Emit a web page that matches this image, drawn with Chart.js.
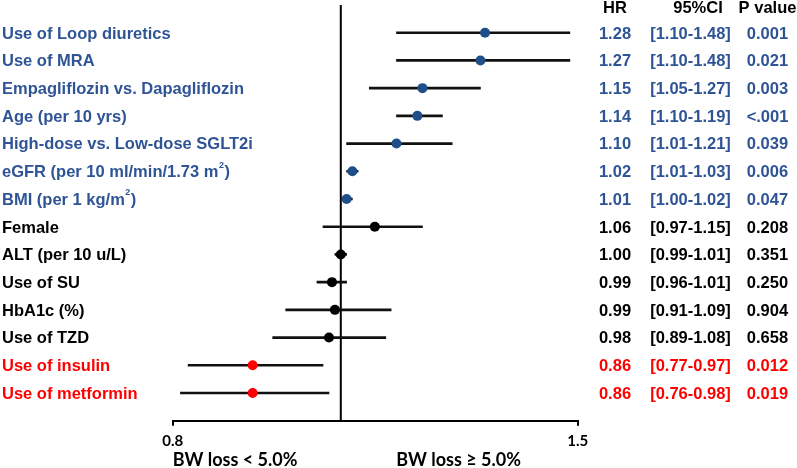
<!DOCTYPE html>
<html>
<head>
<meta charset="utf-8">
<script src="https://cdn.jsdelivr.net/npm/chart.js@4/dist/chart.umd.min.js"></script>
<style>
  html, body { margin: 0; padding: 0; background: #ffffff; }
  #wrap { width: 797px; height: 468px; }
</style>
</head>
<body>
<div id="wrap"><canvas id="c" width="797" height="468"></canvas></div>
<script>
// ---------------- DATA ----------------
const categories = [
  'Use of Loop diuretics',
  'Use of MRA',
  'Empagliflozin vs. Dapagliflozin',
  'Age (per 10 yrs)',
  'High-dose vs. Low-dose SGLT2i',
  'eGFR (per 10 ml/min/1.73 m\u00B2)',
  'BMI (per 1 kg/m\u00B2)',
  'Female',
  'ALT (per 10 u/L)',
  'Use of SU',
  'HbA1c (%)',
  'Use of TZD',
  'Use of insulin',
  'Use of metformin'
];
const hr     = [1.28, 1.27, 1.15, 1.14, 1.10, 1.02, 1.01, 1.06, 1.00, 0.985, 0.99, 0.98, 0.86, 0.86];
const ciLow  = [1.10, 1.10, 1.05, 1.10, 1.01, 1.01, 1.00, 0.97, 0.99, 0.96, 0.91, 0.89, 0.77, 0.76];
const ciHigh = [1.48, 1.48, 1.27, 1.19, 1.21, 1.03, 1.02, 1.15, 1.01, 1.01, 1.09, 1.08, 0.97, 0.98];
const hrText = ['1.28','1.27','1.15','1.14','1.10','1.02','1.01','1.06','1.00','0.99','0.99','0.98','0.86','0.86'];
const pText  = ['0.001','0.021','0.003','<.001','0.039','0.006','0.047','0.208','0.351','0.250','0.904','0.658','0.012','0.019'];
const rowGroup = ['up','up','up','up','up','up','up','none','none','none','none','none','down','down'];
const columnHeaders = ['HR', '95%CI', 'P value'];
const xTickValues = [0.75, 1.5];
const xTickLabels = ['0.8', '1.5'];
const refValue = 1;
const sideLabels = ['BW loss < 5.0%', 'BW loss \u2265 5.0%'];

// ---------------- STYLE ----------------
const textColors = { up: '#2F5496', none: '#000000', down: '#FF0000' };
const dotColors  = { up: '#1F4E89', none: '#000000', down: '#FF0000' };
const mainFont = 'bold 16.5px "Liberation Sans", Arial, sans-serif';
const supFont  = 'bold 9px "Liberation Sans", Arial, sans-serif';
const axisFontFamily = 'Lato, "Open Sans", sans-serif';

const ciStrings = ciLow.map((l, i) => '[' + l.toFixed(2) + '-' + ciHigh[i].toFixed(2) + ']');

function drawLabel(ctx, text, x, yBase) {
  // handles superscript ²
  const parts = text.split('\u00B2');
  let cx = x;
  for (let k = 0; k < parts.length; k++) {
    ctx.font = mainFont;
    ctx.fillText(parts[k], cx, yBase);
    cx += ctx.measureText(parts[k]).width;
    if (k < parts.length - 1) {
      ctx.font = supFont;
      ctx.fillText('2', cx + 0.5, yBase - 9.5);
      cx += ctx.measureText('2').width + 1;
    }
  }
}

const textPlugin = {
  id: 'forestText',
  afterDraw(chart) {
    const ctx = chart.ctx;
    const yS = chart.scales.y;
    const xS = chart.scales.x;
    ctx.save();
    ctx.textBaseline = 'alphabetic';
    const capHalf = 5.9;
    // headers
    ctx.fillStyle = '#000';
    ctx.font = mainFont;
    ctx.textAlign = 'center';
    const colX = [615, 698, 767.5];
    const headerY = 7.5 + capHalf;
    columnHeaders.forEach((h, k) => ctx.fillText(h, colX[k], headerY));
    // rows
    categories.forEach((cat, i) => {
      const y = yS.getPixelForValue(i) + capHalf;
      ctx.fillStyle = textColors[rowGroup[i]];
      ctx.textAlign = 'left';
      drawLabel(ctx, cat, 2, y);
      ctx.font = mainFont;
      ctx.textAlign = 'center';
      ctx.fillText(hrText[i], 615, y);
      ctx.fillText(ciStrings[i], 690.5, y);
      ctx.fillText(pText[i], 767.5, y);
    });
    // side labels under axis
    ctx.fillStyle = '#000';
    ctx.font = 'bold 18px ' + axisFontFamily;
    ctx.textAlign = 'left';
    ctx.textBaseline = 'middle';
    ctx.fillText(sideLabels[0], chart.chartArea.left, 460);
    ctx.fillText(sideLabels[1], xS.getPixelForValue(refValue) + 55.5, 460);
    ctx.restore();
  }
};

const ctx = document.getElementById('c').getContext('2d');
new Chart(ctx, {
  type: 'bar',
  data: {
    datasets: [
      {
        type: 'scatter',
        label: 'HR',
        data: hr.map((v, i) => ({ x: v, y: i })),
        pointRadius: 5,
        pointHoverRadius: 5,
        pointBorderWidth: 0,
        pointBackgroundColor: rowGroup.map(g => dotColors[g]),
        pointBorderColor: rowGroup.map(g => dotColors[g]),
        order: 0
      },
      {
        type: 'bar',
        label: '95% CI',
        data: ciLow.map((l, i) => ({ y: i, x: [l, ciHigh[i]] })),
        backgroundColor: '#111111',
        borderWidth: 0,
        barThickness: 2,
        order: 1
      },
      {
        type: 'line',
        label: 'ref',
        data: [{ x: refValue, y: -1 }, { x: refValue, y: 14 }],
        borderColor: '#000000',
        borderWidth: 2,
        pointRadius: 0,
        fill: false,
        order: 2
      }
    ]
  },
  options: {
    indexAxis: 'y',
    responsive: false,
    animation: false,
    devicePixelRatio: 1,
    layout: { padding: { left: 172.7, right: 219.3, top: 2.1, bottom: 0 } },
    plugins: { legend: { display: false }, tooltip: { enabled: false } },
    scales: {
      y: {
        type: 'linear',
        min: -1,
        max: 14,
        reverse: true,
        offset: false,
        display: false,
        grid: { offset: false }
      },
      x: {
        type: 'logarithmic',
        min: 0.75,
        max: 1.5,
        position: 'bottom',
        offset: false,
        afterBuildTicks: (axis) => { axis.ticks = xTickValues.map(v => ({ value: v })); },
        afterFit: (axis) => { axis.height = 47.3; },
        border: { display: true, color: '#000000', width: 2 },
        grid: { drawOnChartArea: false, drawTicks: true, tickLength: 5, color: '#000000', lineWidth: 2 },
        ticks: {
          autoSkip: false,
          maxRotation: 0,
          padding: 6,
          color: '#000000',
          font: { family: axisFontFamily, weight: 'bold', size: 15 },
          callback: (value, index) => xTickLabels[index]
        }
      }
    }
  },
  plugins: [textPlugin]
});
</script>
</body>
</html>
